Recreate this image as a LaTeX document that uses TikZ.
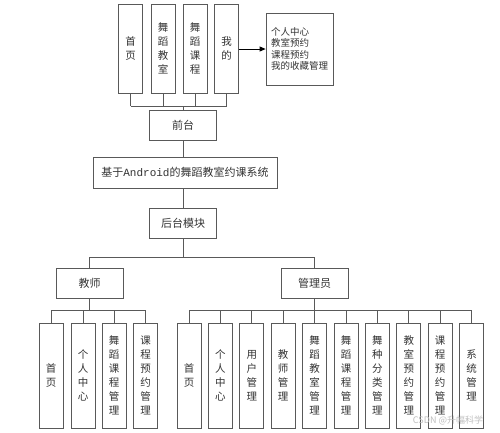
\documentclass[tikz,border=0pt]{standalone}
\usepackage{fontspec}
\setmainfont{Noto Sans CJK SC}
\newfontfamily\monofnt{Liberation Mono}
\usetikzlibrary{arrows.meta}
\begin{document}
\begin{tikzpicture}[x=1pt,y=-1pt,
  box/.style={draw=black!65,line width=0.8pt,fill=white,inner sep=0pt,font=\fontsize{11}{12}\selectfont,text=black!80},
  vbox/.style={box,minimum width=24pt,minimum height=#1,align=center,font=\fontsize{10.5}{14}\selectfont},
  hbox/.style={box,minimum width=67pt,minimum height=30pt},
  conn/.style={draw=black!65,line width=0.8pt}]
\useasboundingbox (0,0) rectangle (500,432);
% top
\node[vbox=89pt] (t1) at (130.5,48.5) {首\\页};
\node[vbox=89pt] (t2) at (163,48.5) {舞\\蹈\\教\\室};
\node[vbox=89pt] (t3) at (195,48.5) {舞\\蹈\\课\\程};
\node[vbox=89pt] (t4) at (226.5,48.5) {我\\的};
\node[box,minimum width=67pt,minimum height=72pt,align=left,font=\fontsize{9.5}{11.5}\selectfont] (my) at (299.5,49) {个人中心\\教室预约\\课程预约\\我的收藏管理};
\draw[-{Triangle[length=6pt,width=5pt]},line width=0.8pt] (t4.east|-my) -- (my.west);
\node[hbox] (qt) at (183,125) {前台};
\node[box,minimum width=184pt,minimum height=31pt] (sys) at (185,172.5) {基于{\monofnt Android}的舞蹈教室约课系统};
\node[hbox] (ht) at (183,223) {后台模块};
\coordinate (topbar) at (183,106);
\foreach \n in {t1,t2,t3,t4} \draw[conn] (\n.south) -- (\n.south|-topbar);
\draw[conn] (t1.south|-topbar) -- (t4.south|-topbar);
\draw[conn] (qt.north|-topbar) -- (qt.north);
\draw[conn] (qt.south) -- (qt.south|-sys.north);
\draw[conn] (ht.north|-sys.south) -- (ht.north);
% second level
\node[hbox] (js) at (89.5,283) {教师};
\node[hbox] (gl) at (314.5,283) {管理员};
\coordinate (midbar) at (183,257);
\draw[conn] (ht.south) -- (midbar);
\draw[conn] (js.north) -- (js.north|-midbar) -- (gl.north|-midbar) -- (gl.north);
% teacher children
\coordinate (jbar) at (0,310);
\foreach \i/\t [count=\k] in {51/{首\\页},83/{个\\人\\中\\心},114/{舞\\蹈\\课\\程\\管\\理},145.5/{课\\程\\预\\约\\管\\理}} {
  \node[vbox=105pt] (j\k) at (\i,375.5) {\t};
  \draw[conn] (j\k.north) -- (j\k.north|-jbar);
}
\draw[conn] (j1.north|-jbar) -- (j4.north|-jbar);
\draw[conn] (js.south) -- (js.south|-jbar);
% admin children
\foreach \t [count=\k] in {{首\\页},{个\\人\\中\\心},{用\\户\\管\\理},{教\\师\\管\\理},{舞\\蹈\\教\\室\\管\\理},{舞\\蹈\\课\\程\\管\\理},{舞\\种\\分\\类\\管\\理},{教\\室\\预\\约\\管\\理},{课\\程\\预\\约\\管\\理},{系\\统\\管\\理}} {
  \node[vbox=105pt] (a\k) at ({189+31.4*(\k-1)},375.5) {\t};
  \draw[conn] (a\k.north) -- (a\k.north|-jbar);
}
\draw[conn] (a1.north|-jbar) -- (a10.north|-jbar);
\draw[conn] (gl.south) -- (gl.south|-jbar);
\node[font=\fontsize{9}{10}\selectfont,text=black!25,inner sep=0pt] (wm) at (448,420) {CSDN @升幅科学};
\end{tikzpicture}
\end{document}
